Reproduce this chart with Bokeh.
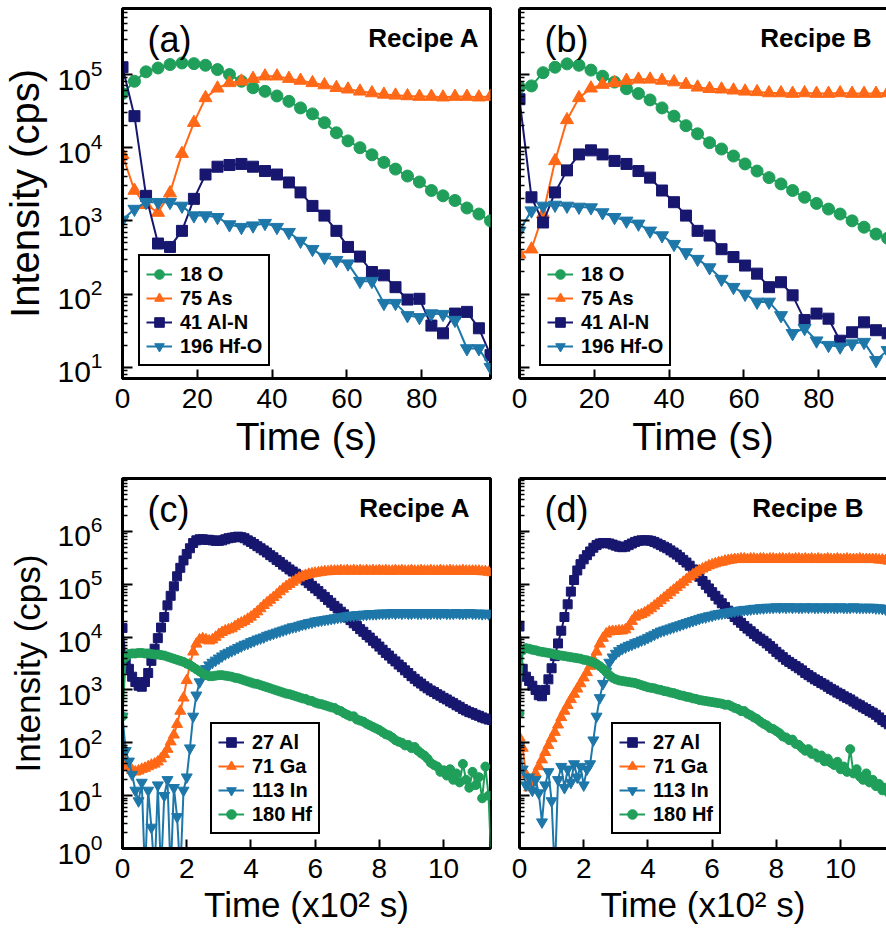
import numpy as np
from bokeh.embed import file_html
from bokeh.layouts import column, row
from bokeh.models import (ColumnDataSource, CustomJSTickFormatter, FixedTicker, Label,
                          Legend, LegendItem, LinearAxis, Range1d)
from bokeh.plotting import figure
from bokeh.resources import INLINE

FONT = "Liberation Sans"
GREEN, ORANGE, NAVY, TEAL = "#1f9f5a", "#ff6816", "#17176f", "#1e77a9"

# ---------------- short sputter profiles, panels (a) and (b); time in s -------------
t_short = [0.0, 3.2, 6.3, 9.5, 12.7, 15.9, 19.1, 22.2, 25.4, 28.6, 31.8, 34.9, 38.1, 41.3,
           44.5, 47.6, 50.8, 54.0, 57.2, 60.3, 63.5, 66.7, 69.9, 73.0, 76.2, 79.4, 82.6,
           85.7, 88.9, 92.1, 95.3, 98.4]

a_o18 = [5.5e4, 8.1e4, 1.09e5, 1.23e5, 1.37e5, 1.44e5, 1.41e5, 1.34e5, 1.17e5, 1.0e5,
         8.1e4, 6.6e4, 5.9e4, 5.1e4, 4.3e4, 3.5e4, 2.9e4, 2.2e4, 1.6e4, 1.24e4,
         1.0e4, 8.0e3, 6.3e3, 5.1e3, 4.1e3, 3.4e3, 2.6e3, 2.2e3, 1.9e3, 1.5e3, 1.24e3, 1.0e3]
a_as75 = [8.0e3, 2.6e3, 1.66e3, 1.3e3, 2.4e3, 8.3e3, 2.2e4, 4.8e4, 6.5e4, 7.7e4,
          8.1e4, 8.8e4, 9.5e4, 9.5e4, 8.8e4, 8.3e4, 7.7e4, 7.2e4, 6.6e4, 6.3e4,
          5.9e4, 5.6e4, 5.35e4, 5.2e4, 5.1e4, 5.0e4, 5.0e4, 4.9e4, 5.0e4, 5.0e4, 4.9e4, 5.0e4]
a_aln41 = [1.26e5, 2.7e4, 2.2e3, 4.9e2, 4.4e2, 7.3e2, 2.0e3, 4.3e3, 5.5e3, 5.8e3,
           6.0e3, 5.5e3, 4.8e3, 4.3e3, 3.35e3, 2.45e3, 1.6e3, 1.18e3, 7.3e2, 4.4e2,
           3.25e2, 2.0e2, 1.8e2, 1.24e2, 84, 86, 37, 29, 54, 57, 34, 14.6]
a_hfo196 = [1.03e3, 1.45e3, 1.8e3, 1.8e3, 1.8e3, 1.6e3, 1.18e3, 1.18e3, 1.12e3, 8.9e2,
            8.2e2, 8.6e2, 9.3e2, 8.2e2, 7.0e2, 5.3e2, 4.1e2, 3.2e2, 2.9e2, 2.6e2,
            1.5e2, 1.5e2, 75, 75, 51, 48, 54, 53, 44, 18, 18, 10]

b_o18 = [6.7e4, 7.0e4, 1.06e5, 1.26e5, 1.4e5, 1.34e5, 1.15e5, 9.5e4, 7.9e4, 6.4e4,
         5.5e4, 4.5e4, 3.5e4, 2.7e4, 2.0e4, 1.55e4, 1.17e4, 9.6e3, 7.7e3, 6.0e3,
         4.8e3, 3.9e3, 3.2e3, 2.6e3, 2.1e3, 1.73e3, 1.45e3, 1.24e3, 1.0e3, 8.2e2, 6.6e2, 5.8e2]
b_as75 = [3.5e2, 4.1e2, 1.24e3, 6.6e3, 2.4e4, 4.8e4, 6.5e4, 7.3e4, 7.7e4, 8.3e4,
          8.6e4, 8.6e4, 8.3e4, 7.9e4, 7.3e4, 6.7e4, 6.4e4, 6.3e4, 6.1e4, 5.9e4,
          5.8e4, 5.6e4, 5.6e4, 5.5e4, 5.6e4, 5.5e4, 5.5e4, 5.6e4, 5.5e4, 5.5e4, 5.5e4, 5.6e4]
b_aln41 = [4.6e4, 2.1e3, 9.5e2, 2.45e3, 4.9e3, 8.1e3, 9.2e3, 8.1e3, 6.6e3, 6.0e3,
           4.8e3, 3.9e3, 2.6e3, 1.8e3, 1.18e3, 7.3e2, 6.3e2, 4.1e2, 3.2e2, 2.45e2,
           1.9e2, 1.24e2, 1.45e2, 96, 44, 54, 46, 23, 30, 41, 32, 29]
b_hfo196 = [7.3e2, 1.38e3, 1.6e3, 1.65e3, 1.6e3, 1.55e3, 1.52e3, 1.3e3, 1.12e3, 1.0e3,
            9.1e2, 7.3e2, 6.3e2, 4.8e2, 3.7e2, 3.0e2, 2.3e2, 1.6e2, 1.24e2, 1.0e2,
            78, 78, 51, 29, 34, 23, 20, 19, 21, 22, 12.4, 17]

# ---------------- full-stack profiles, panels (c) and (d); time in units of 100 s ----
t_long = [0.0, 0.1, 0.2, 0.3, 0.4, 0.5, 0.6, 0.7, 0.8, 0.9,
          1.0, 1.1, 1.2, 1.3, 1.4, 1.5, 1.6, 1.7, 1.8, 1.9,
          2.0, 2.1, 2.2, 2.3, 2.4, 2.5, 2.6, 2.7, 2.8, 2.9,
          3.0, 3.1, 3.2, 3.3, 3.4, 3.5, 3.6, 3.7, 3.8, 3.9,
          4.0, 4.1, 4.2, 4.3, 4.4, 4.5, 4.6, 4.7, 4.8, 4.9,
          5.0, 5.1, 5.2, 5.3, 5.4, 5.5, 5.6, 5.7, 5.8, 5.9,
          6.0, 6.1, 6.2, 6.3, 6.4, 6.5, 6.6, 6.7, 6.8, 6.9,
          7.0, 7.1, 7.2, 7.3, 7.4, 7.5, 7.6, 7.7, 7.8, 7.9,
          8.0, 8.1, 8.2, 8.3, 8.4, 8.5, 8.6, 8.7, 8.8, 8.9,
          9.0, 9.1, 9.2, 9.3, 9.4, 9.5, 9.6, 9.7, 9.8, 9.9,
          10.0, 10.1, 10.2, 10.3, 10.4, 10.5, 10.6, 10.7, 10.8, 10.9,
          11.0, 11.1, 11.2, 11.3, 11.4, 11.5]

# intensities stored as log10(cps)
c_al27_log = [4.17, 3.55, 3.40, 3.25, 3.15, 3.08, 3.06, 3.15, 3.32, 3.55,
              3.78, 3.98, 4.18, 4.38, 4.60, 4.78, 4.96, 5.15, 5.31, 5.45,
              5.57, 5.68, 5.78, 5.83, 5.85, 5.85, 5.84, 5.84, 5.83, 5.82,
              5.82, 5.83, 5.85, 5.87, 5.88, 5.89, 5.90, 5.89, 5.87, 5.83,
              5.80, 5.76, 5.72, 5.68, 5.64, 5.60, 5.55, 5.51, 5.46, 5.42,
              5.37, 5.33, 5.28, 5.24, 5.20, 5.16, 5.12, 5.07, 5.02, 4.97,
              4.92, 4.87, 4.81, 4.76, 4.70, 4.65, 4.59, 4.54, 4.48, 4.43,
              4.37, 4.32, 4.26, 4.21, 4.15, 4.10, 4.04, 3.99, 3.93, 3.88,
              3.82, 3.76, 3.70, 3.65, 3.59, 3.54, 3.48, 3.43, 3.37, 3.32,
              3.26, 3.21, 3.16, 3.12, 3.07, 3.03, 2.99, 2.96, 2.92, 2.89,
              2.85, 2.82, 2.78, 2.75, 2.71, 2.68, 2.64, 2.61, 2.58, 2.56,
              2.53, 2.51, 2.48, 2.46, 2.44, 2.43]
c_ga71_log = [1.90, 1.60, 1.55, 1.48, 1.45, 1.47, 1.50, 1.52, 1.55, 1.58,
              1.60, 1.64, 1.70, 1.78, 1.88, 2.02, 2.15, 2.35, 2.60, 2.85,
              3.18, 3.48, 3.72, 3.87, 3.95, 3.97, 3.95, 3.93, 3.95, 4.00,
              4.05, 4.09, 4.12, 4.14, 4.16, 4.20, 4.24, 4.27, 4.30, 4.34,
              4.38, 4.43, 4.48, 4.54, 4.60, 4.65, 4.70, 4.75, 4.80, 4.86,
              4.91, 4.96, 5.00, 5.04, 5.08, 5.12, 5.15, 5.17, 5.19, 5.20,
              5.21, 5.22, 5.23, 5.24, 5.24, 5.25, 5.25, 5.25, 5.26, 5.25,
              5.26, 5.25, 5.26, 5.25, 5.26, 5.25, 5.26, 5.25, 5.26, 5.25,
              5.26, 5.25, 5.26, 5.25, 5.25, 5.26, 5.25, 5.26, 5.25, 5.25,
              5.26, 5.25, 5.25, 5.26, 5.25, 5.25, 5.26, 5.25, 5.25, 5.26,
              5.25, 5.25, 5.26, 5.25, 5.25, 5.25, 5.26, 5.25, 5.25, 5.25,
              5.25, 5.25, 5.24, 5.24, 5.23, 5.22]
c_in113_log = [2.50, 1.85, 1.65, 1.40, 1.10, 0.90, 1.25, -0.50, 1.10, 0.40,
               -0.50, 1.20, -0.50, 1.00, 1.30, -0.50, 1.15, 0.60, -0.50, 1.10,
               1.35, 1.90, 2.50, 2.90, 3.15, 3.30, 3.40, 3.47, 3.52, 3.56,
               3.60, 3.64, 3.68, 3.71, 3.74, 3.77, 3.80, 3.83, 3.86, 3.88,
               3.91, 3.93, 3.96, 3.98, 4.00, 4.03, 4.05, 4.07, 4.09, 4.11,
               4.13, 4.15, 4.17, 4.19, 4.20, 4.22, 4.24, 4.25, 4.27, 4.28,
               4.30, 4.31, 4.32, 4.33, 4.34, 4.35, 4.36, 4.37, 4.38, 4.39,
               4.40, 4.41, 4.41, 4.42, 4.42, 4.43, 4.43, 4.44, 4.44, 4.44,
               4.45, 4.45, 4.45, 4.45, 4.46, 4.45, 4.46, 4.45, 4.46, 4.45,
               4.45, 4.46, 4.45, 4.45, 4.46, 4.45, 4.45, 4.46, 4.45, 4.45,
               4.46, 4.45, 4.45, 4.45, 4.46, 4.45, 4.45, 4.45, 4.46, 4.45,
               4.45, 4.45, 4.44, 4.45, 4.44, 4.44]
c_hf180_log = [2.50, 3.62, 3.68, 3.69, 3.69, 3.70, 3.70, 3.69, 3.69, 3.68,
               3.67, 3.67, 3.66, 3.65, 3.63, 3.61, 3.59, 3.57, 3.55, 3.53,
               3.50, 3.47, 3.43, 3.39, 3.35, 3.31, 3.28, 3.26, 3.26, 3.27,
               3.28, 3.28, 3.27, 3.26, 3.25, 3.23, 3.22, 3.20, 3.18, 3.16,
               3.14, 3.12, 3.11, 3.09, 3.07, 3.05, 3.03, 3.01, 2.99, 2.97,
               2.95, 2.93, 2.92, 2.90, 2.88, 2.86, 2.84, 2.83, 2.80, 2.79,
               2.76, 2.74, 2.73, 2.71, 2.69, 2.67, 2.66, 2.62, 2.60, 2.56,
               2.53, 2.50, 2.50, 2.44, 2.42, 2.40, 2.36, 2.33, 2.30, 2.27,
               2.24, 2.20, 2.16, 2.14, 2.10, 2.05, 2.02, 2.00, 1.95, 1.96,
               1.90, 1.92, 1.85, 1.80, 1.76, 1.70, 1.62, 1.58, 1.55, 1.45,
               1.48, 1.38, 1.50, 1.30, 1.42, 1.25, 1.60, 1.30, 1.15, 1.45,
               1.20, 1.35, 0.95, 1.55, 1.00, -0.50]

d_al27_log = [4.20, 3.40, 3.25, 3.17, 3.08, 3.00, 2.90, 2.88, 3.00, 3.20,
              3.41, 3.64, 3.88, 4.12, 4.38, 4.62, 4.86, 5.08, 5.26, 5.38,
              5.47, 5.55, 5.62, 5.69, 5.74, 5.77, 5.78, 5.78, 5.77, 5.75,
              5.73, 5.71, 5.70, 5.71, 5.74, 5.77, 5.80, 5.82, 5.83, 5.83,
              5.83, 5.82, 5.80, 5.77, 5.74, 5.71, 5.68, 5.64, 5.60, 5.56,
              5.51, 5.46, 5.41, 5.35, 5.28, 5.21, 5.14, 5.06, 4.99, 4.92,
              4.85, 4.78, 4.71, 4.64, 4.57, 4.50, 4.44, 4.38, 4.32, 4.27,
              4.21, 4.16, 4.11, 4.06, 4.01, 3.97, 3.93, 3.88, 3.83, 3.78,
              3.72, 3.67, 3.62, 3.57, 3.53, 3.49, 3.45, 3.41, 3.37, 3.32,
              3.28, 3.24, 3.20, 3.17, 3.13, 3.10, 3.06, 3.02, 2.99, 2.95,
              2.92, 2.88, 2.85, 2.82, 2.78, 2.74, 2.71, 2.67, 2.64, 2.60,
              2.57, 2.53, 2.48, 2.43, 2.39, 2.35]
d_ga71_log = [2.10, 1.90, 1.40, 1.15, 1.25, 1.42, 1.55, 1.68, 1.82, 1.95,
              2.08, 2.20, 2.34, 2.48, 2.60, 2.71, 2.82, 2.92, 3.02, 3.12,
              3.23, 3.33, 3.45, 3.58, 3.72, 3.87, 3.98, 4.06, 4.10, 4.11,
              4.11, 4.12, 4.12, 4.14, 4.20, 4.30, 4.38, 4.41, 4.43, 4.46,
              4.50, 4.54, 4.59, 4.64, 4.69, 4.74, 4.79, 4.84, 4.89, 4.94,
              4.99, 5.04, 5.09, 5.14, 5.18, 5.22, 5.26, 5.29, 5.32, 5.35,
              5.37, 5.39, 5.41, 5.42, 5.44, 5.45, 5.46, 5.47, 5.47, 5.48,
              5.48, 5.47, 5.48, 5.48, 5.47, 5.48, 5.48, 5.47, 5.48, 5.48,
              5.47, 5.48, 5.48, 5.47, 5.48, 5.47, 5.48, 5.48, 5.47, 5.48,
              5.47, 5.48, 5.47, 5.48, 5.47, 5.47, 5.48, 5.47, 5.47, 5.48,
              5.47, 5.47, 5.48, 5.47, 5.47, 5.47, 5.48, 5.47, 5.47, 5.47,
              5.47, 5.47, 5.46, 5.46, 5.45, 5.44]
d_in113_log = [1.95, 1.50, 1.20, 1.35, 1.10, 1.30, 1.05, 0.50, 1.20, 1.45,
               0.90, -0.50, 1.30, 1.55, 1.15, 1.50, 1.25, 1.60, 1.35, 1.55,
               1.20, 1.50, 1.60, 2.05, 2.50, 2.85, 3.12, 3.35, 3.52, 3.62,
               3.69, 3.74, 3.78, 3.81, 3.84, 3.86, 3.89, 3.91, 3.94, 3.96,
               3.99, 4.02, 4.05, 4.08, 4.11, 4.13, 4.15, 4.17, 4.19, 4.21,
               4.23, 4.25, 4.27, 4.29, 4.31, 4.33, 4.35, 4.37, 4.38, 4.40,
               4.41, 4.43, 4.44, 4.45, 4.46, 4.47, 4.48, 4.49, 4.50, 4.51,
               4.52, 4.52, 4.53, 4.54, 4.54, 4.55, 4.55, 4.56, 4.56, 4.56,
               4.57, 4.56, 4.57, 4.56, 4.57, 4.56, 4.57, 4.56, 4.56, 4.57,
               4.56, 4.57, 4.56, 4.56, 4.57, 4.56, 4.56, 4.57, 4.56, 4.56,
               4.57, 4.56, 4.56, 4.56, 4.57, 4.56, 4.56, 4.56, 4.56, 4.56,
               4.56, 4.55, 4.55, 4.54, 4.53, 4.53]
d_hf180_log = [2.56, 3.75, 3.79, 3.78, 3.76, 3.75, 3.73, 3.72, 3.71, 3.70,
               3.69, 3.67, 3.66, 3.65, 3.64, 3.63, 3.62, 3.61, 3.60, 3.59,
               3.57, 3.56, 3.54, 3.52, 3.49, 3.45, 3.40, 3.34, 3.28, 3.23,
               3.20, 3.18, 3.17, 3.16, 3.15, 3.14, 3.13, 3.11, 3.09, 3.07,
               3.05, 3.04, 3.03, 3.01, 3.00, 2.98, 2.97, 2.95, 2.94, 2.92,
               2.90, 2.89, 2.87, 2.86, 2.84, 2.83, 2.81, 2.80, 2.79, 2.78,
               2.77, 2.76, 2.75, 2.74, 2.72, 2.72, 2.69, 2.66, 2.64, 2.60,
               2.60, 2.55, 2.52, 2.48, 2.45, 2.40, 2.36, 2.33, 2.28, 2.26,
               2.22, 2.18, 2.12, 2.10, 2.05, 2.06, 1.98, 1.96, 1.90, 1.85,
               1.88, 1.79, 1.80, 1.72, 1.76, 1.65, 1.70, 1.62, 1.58, 1.64,
               1.50, 1.55, 1.45, 1.88, 1.42, 1.50, 1.36, 1.30, 1.42, 1.25,
               1.30, 1.18, 1.22, 1.10, 1.15, 1.05]

short_ticks = [0, 20, 40, 60, 80]
long_ticks = [0, 2, 4, 6, 8, 10]
short_decades = [1e1, 1e2, 1e3, 1e4, 1e5]
long_decades = [1e0, 1e1, 1e2, 1e3, 1e4, 1e5, 1e6]


def minor_between(decades):
    return [m * d for d in decades + [decades[-1] * 10] for m in range(2, 10)] + \
           [m * decades[0] / 10 for m in range(2, 10)]


def build(t, series, x_end, y_lo, y_hi, y_major, x_major, tag, recipe, recipe_right,
          legend_xy, xlabel, xlabel_px, ylabel_px, first_col, height, bottom):
    frame_w = 368 if first_col else 367
    left = 122 if first_col else 19
    right = 10 if first_col else 0
    p = figure(width=left + frame_w + right, height=height,
               x_range=Range1d(0, x_end), y_range=Range1d(y_lo, y_hi),
               y_axis_type="log", output_backend="svg", toolbar_location=None,
               min_border_left=left, min_border_right=right,
               min_border_top=8, min_border_bottom=bottom)
    p.xgrid.visible = False
    p.ygrid.visible = False
    p.background_fill_color = "white"
    p.border_fill_color = "white"

    xa = p.below[0]
    xa.ticker = FixedTicker(ticks=x_major)
    xa.axis_line_width = 3
    xa.axis_line_color = "black"
    xa.major_tick_in = 9
    xa.major_tick_out = 0
    xa.major_tick_line_width = 2
    xa.minor_tick_line_color = None
    xa.major_label_text_font = FONT
    xa.major_label_text_font_size = "28px"
    xa.major_label_text_color = "black"
    xa.major_label_standoff = 10
    xa.axis_label = xlabel
    xa.axis_label_text_font = FONT
    xa.axis_label_text_font_size = xlabel_px
    xa.axis_label_text_font_style = "normal"
    xa.axis_label_text_color = "black"
    xa.axis_label_standoff = 4

    ya = p.left[0]
    ya.ticker = FixedTicker(ticks=y_major, minor_ticks=minor_between(y_major))
    ya.axis_line_width = 3
    ya.axis_line_color = "black"
    ya.major_tick_in = 10
    ya.major_tick_out = 0
    ya.major_tick_line_width = 2
    ya.minor_tick_in = 5
    ya.minor_tick_out = 0
    ya.minor_tick_line_width = 1.5
    if first_col:
        ya.major_label_text_font = FONT
        ya.major_label_text_font_size = "30px"
        ya.major_label_text_color = "black"
        ya.major_label_standoff = 20
        ya.axis_label = "Intensity (cps)"
        ya.axis_label_text_font = FONT
        ya.axis_label_text_font_size = ylabel_px
        ya.axis_label_text_font_style = "normal"
        ya.axis_label_text_color = "black"
        ya.axis_label_standoff = 7
        p.outline_line_color = "black"
        p.outline_line_width = 3
        p.outline_line_alpha = 1.0
    else:
        ya.formatter = CustomJSTickFormatter(code="return ''")
        ya.major_label_standoff = 0
        p.outline_line_color = None
        top = LinearAxis(ticker=FixedTicker(ticks=[]), axis_line_width=3,
                         axis_line_color="black", major_tick_line_color=None,
                         minor_tick_line_color=None, major_label_text_font_size="0px",
                         major_label_standoff=0)
        p.add_layout(top, "above")

    items = []
    for label, vals, color, marker, size in series:
        src = ColumnDataSource(dict(t=t, y=vals))
        ln = p.line("t", "y", source=src, line_color=color, line_width=2)
        sc = p.scatter("t", "y", source=src, marker=marker, size=size,
                       fill_color=color, line_color=color)
        items.append(LegendItem(label=label, renderers=[ln, sc]))

    leg = Legend(items=items, location=legend_xy, border_line_color="black",
                 border_line_width=2, border_line_alpha=1.0,
                 background_fill_color="white", background_fill_alpha=1.0,
                 label_text_font=FONT, label_text_font_size="20px",
                 label_text_font_style="bold", label_text_color="black",
                 glyph_width=26, glyph_height=24, label_height=20, spacing=0,
                 padding=6, margin=0, label_standoff=8)
    p.add_layout(leg)

    p.add_layout(Label(x=25, y=339, x_units="screen", y_units="screen", text=tag,
                       text_font=FONT, text_font_size="36px", text_color="black",
                       text_baseline="middle", text_align="left"))
    p.add_layout(Label(x=recipe_right, y=341, x_units="screen", y_units="screen",
                       text=recipe, text_font=FONT, text_font_size="26px",
                       text_font_style="bold", text_color="black",
                       text_baseline="middle", text_align="right"))
    return p


def pw(vals):
    return list(10.0 ** np.array(vals))


short_styles = [("circle", 12), ("triangle", 13), ("square", 11), ("inverted_triangle", 13)]
long_styles = [("square", 9), ("triangle", 11), ("inverted_triangle", 11), ("circle", 9)]

pa = build(t_short,
           [("18 O", a_o18, GREEN, *short_styles[0]),
            ("75 As", a_as75, ORANGE, *short_styles[1]),
            ("41 Al-N", a_aln41, NAVY, *short_styles[2]),
            ("196 Hf-O", a_hfo196, TEAL, *short_styles[3])],
           98.4, 7, 8e5, short_decades, short_ticks, "(a)", "Recipe A", 357,
           (16, 12), "Time (s)", "39px", "40px", True, 470, 92)
pb = build(t_short,
           [("18 O", b_o18, GREEN, *short_styles[0]),
            ("75 As", b_as75, ORANGE, *short_styles[1]),
            ("41 Al-N", b_aln41, NAVY, *short_styles[2]),
            ("196 Hf-O", b_hfo196, TEAL, *short_styles[3])],
           98.1, 7, 8e5, short_decades, short_ticks, "(b)", "Recipe B", 352,
           (20, 12), "Time (s)", "39px", "40px", False, 470, 92)
pc = build(t_long,
           [("27 Al", pw(c_al27_log), NAVY, *long_styles[0]),
            ("71 Ga", pw(c_ga71_log), ORANGE, *long_styles[1]),
            ("113 In", pw(c_in113_log), TEAL, *long_styles[2]),
            ("180 Hf", pw(c_hf180_log), GREEN, *long_styles[3])],
           11.46, 1, 1e7, long_decades, long_ticks, "(c)", "Recipe A", 348,
           (88, 14), "Time (x10² s)", "35px", "35px", True, 471, 93)
pd_ = build(t_long,
            [("27 Al", pw(d_al27_log), NAVY, *long_styles[0]),
             ("71 Ga", pw(d_ga71_log), ORANGE, *long_styles[1]),
             ("113 In", pw(d_in113_log), TEAL, *long_styles[2]),
             ("180 Hf", pw(d_hf180_log), GREEN, *long_styles[3])],
            11.43, 1, 1e7, long_decades, long_ticks, "(d)", "Recipe B", 344,
            (92, 14), "Time (x10² s)", "35px", "35px", False, 471, 93)

layout = column(row(pa, pb), row(pc, pd_))
open("out.html", "w").write(file_html(layout, INLINE, "SIMS depth profiles"))
